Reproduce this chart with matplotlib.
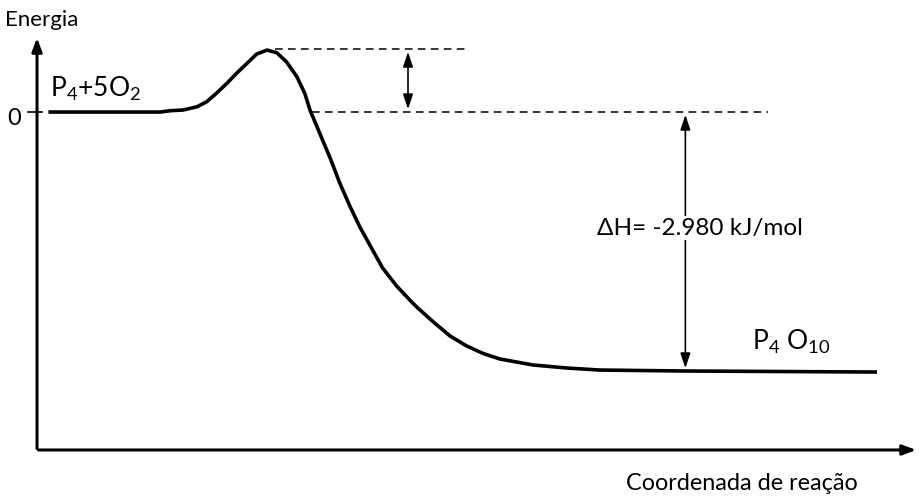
import matplotlib
matplotlib.use("Agg")
import matplotlib.pyplot as plt

plt.rcParams['font.family'] = ['Lato', 'DejaVu Sans']
plt.rcParams['mathtext.fontset'] = 'custom'
plt.rcParams['mathtext.rm'] = 'Lato'
plt.rcParams['mathtext.it'] = 'Lato'

# reaction coordinate (0-100) and energy (kJ/mol)
coord = [1.3, 14.1, 15.2, 16.7, 18.3, 19.4, 20.5, 21.7, 22.8, 24.0, 25.1, 26.3,
         27.4, 28.5, 29.7, 30.6, 31.2, 32.3, 33.5, 34.6, 35.8, 36.9, 38.1, 39.5,
         41.1, 42.6, 43.4, 45.3, 47.2, 49.1, 51.0, 52.9, 56.7, 60.6, 64.3, 73.8, 96.0]
energy = [0, 0, 15, 23, 61, 119, 215, 330, 445, 560, 667, 713,
          682, 579, 406, 215, 23, -242, -529, -817, -1093, -1323, -1542, -1795,
          -2002, -2163, -2244, -2416, -2577, -2692, -2779, -2842, -2911, -2946, -2969, -2980, -2992]

e_reag = 0
e_peak = 725
e_prod = -2980
dh_label = "\u0394H= -2.980 kJ/mol"

fig = plt.figure(figsize=(9.19, 5.01), dpi=100)
ax = fig.add_axes([0, 0, 1, 1])
ax.set_xlim(-4.23, 100.8)
ax.set_ylim(-4476, 1289)
ax.axis('off')

y0 = -3889
# axes with arrows
ax.annotate('', xy=(0, 886), xytext=(0, y0 - 15),
            arrowprops=dict(arrowstyle='-|>,head_length=0.8,head_width=0.3', lw=2.2, color='black'))
ax.annotate('', xy=(100.8, y0), xytext=(-0.15, y0),
            arrowprops=dict(arrowstyle='-|>,head_length=0.8,head_width=0.3', lw=2.2, color='black'))

# zero tick
ax.plot([-1.0, 0.6], [e_reag, e_reag], color='black', lw=1.2)
ax.text(-2.65, -75, '0', ha='center', va='center', fontsize=17)

# energy curve
ax.plot(coord, energy, color='black', lw=2.6, solid_capstyle='butt', solid_joinstyle='round')

# dashed reference lines
ax.plot([27.2, 49.3], [e_peak, e_peak], color='black', lw=1.1, ls=(0, (5, 3.5)))
ax.plot([31.4, 83.5], [e_reag, e_reag], color='black', lw=1.1, ls=(0, (5, 3.5)))

# activation energy arrow
ax.annotate('', xy=(42.4, e_peak), xytext=(42.4, e_reag),
            arrowprops=dict(arrowstyle='<|-|>,head_length=0.9,head_width=0.3', lw=1.2, color='black'))

# delta H arrow
ax.annotate('', xy=(74.1, e_reag), xytext=(74.1, e_prod),
            arrowprops=dict(arrowstyle='<|-|>,head_length=0.9,head_width=0.3', lw=1.2, color='black'))
ax.text(75.8, -1335, dh_label, ha='center', va='center', fontsize=17.5,
        bbox=dict(facecolor='white', edgecolor='none', pad=1))

# labels
ax.text(1.5, 173, 'P$_4$+5O$_2$', ha='left', va='baseline', fontsize=19)
ax.text(81.7, -2738, 'P$_4$ O$_{10}$', ha='left', va='baseline', fontsize=19)
ax.text(-3.7, 990, 'Energia', ha='left', va='baseline', fontsize=16)
ax.text(67.3, -4349, 'Coordenada de rea\u00e7\u00e3o', ha='left', va='baseline', fontsize=16.8)

fig.savefig('out.png', dpi=100)
